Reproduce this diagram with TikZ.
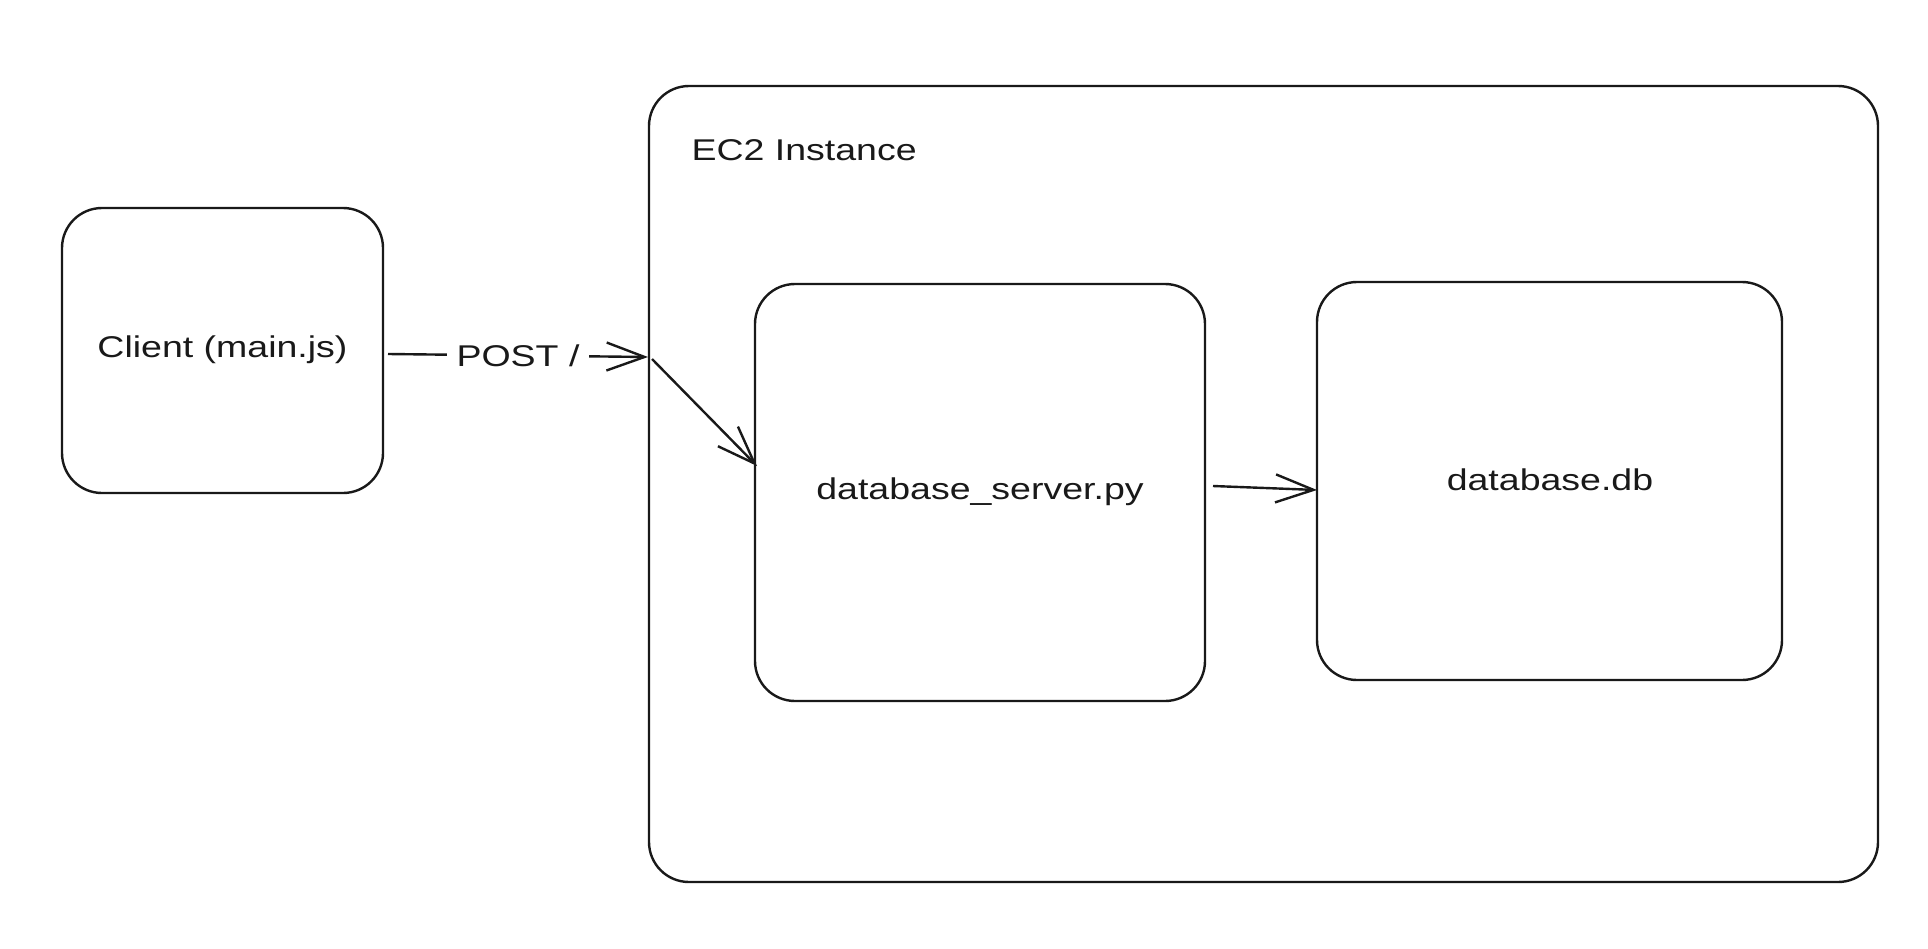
\documentclass[tikz,border=0pt]{standalone}
\usepackage{fontspec}
\setmainfont{Liberation Sans}
\newfontfamily\handfont[FakeStretch=1.25]{Liberation Sans}
\usetikzlibrary{arrows.meta}
\begin{document}
\begin{tikzpicture}[x=1pt,y=-1pt,
  box/.style={draw=black!90, line width=2.4pt, rounded corners=40pt},
  lbl/.style={font=\handfont\fontsize{30}{36}\selectfont, text=black!90},
  conn/.style={draw=black!90, line width=2.4pt, -{Straight Barb[length=38pt,width=28pt,line width=2.4pt]}}]
\useasboundingbox[fill=white] (0,0) rectangle (1928,948);
\draw[box] (649,86) rectangle (1878,882);
\node[lbl, anchor=west] (ec2) at (688,150) {EC2 Instance};
\draw[box] (62,208) rectangle (383,493);
\node[lbl] (client) at (222.5,350) {Client (main.js)};
\draw[box] (755,284) rectangle (1205,701);
\node[lbl] (server) at (980,492) {database\_server.py};
\draw[box] (1317,282) rectangle (1782,680);
\node[lbl] (db) at (1550,480) {database.db};
\coordinate (c1) at (388,354);
\coordinate (e1) at (648,357);
\coordinate (e2) at (652,359);
\coordinate (s1) at (757,466);
\coordinate (s2) at (1213,486);
\coordinate (d1) at (1317,490);
\draw[conn] (c1) -- node[midway, fill=white, lbl, inner xsep=10pt] (post) {POST /} (e1);
\draw[conn] (e2) -- (s1);
\draw[conn] (s2) -- (d1);
\end{tikzpicture}
\end{document}
